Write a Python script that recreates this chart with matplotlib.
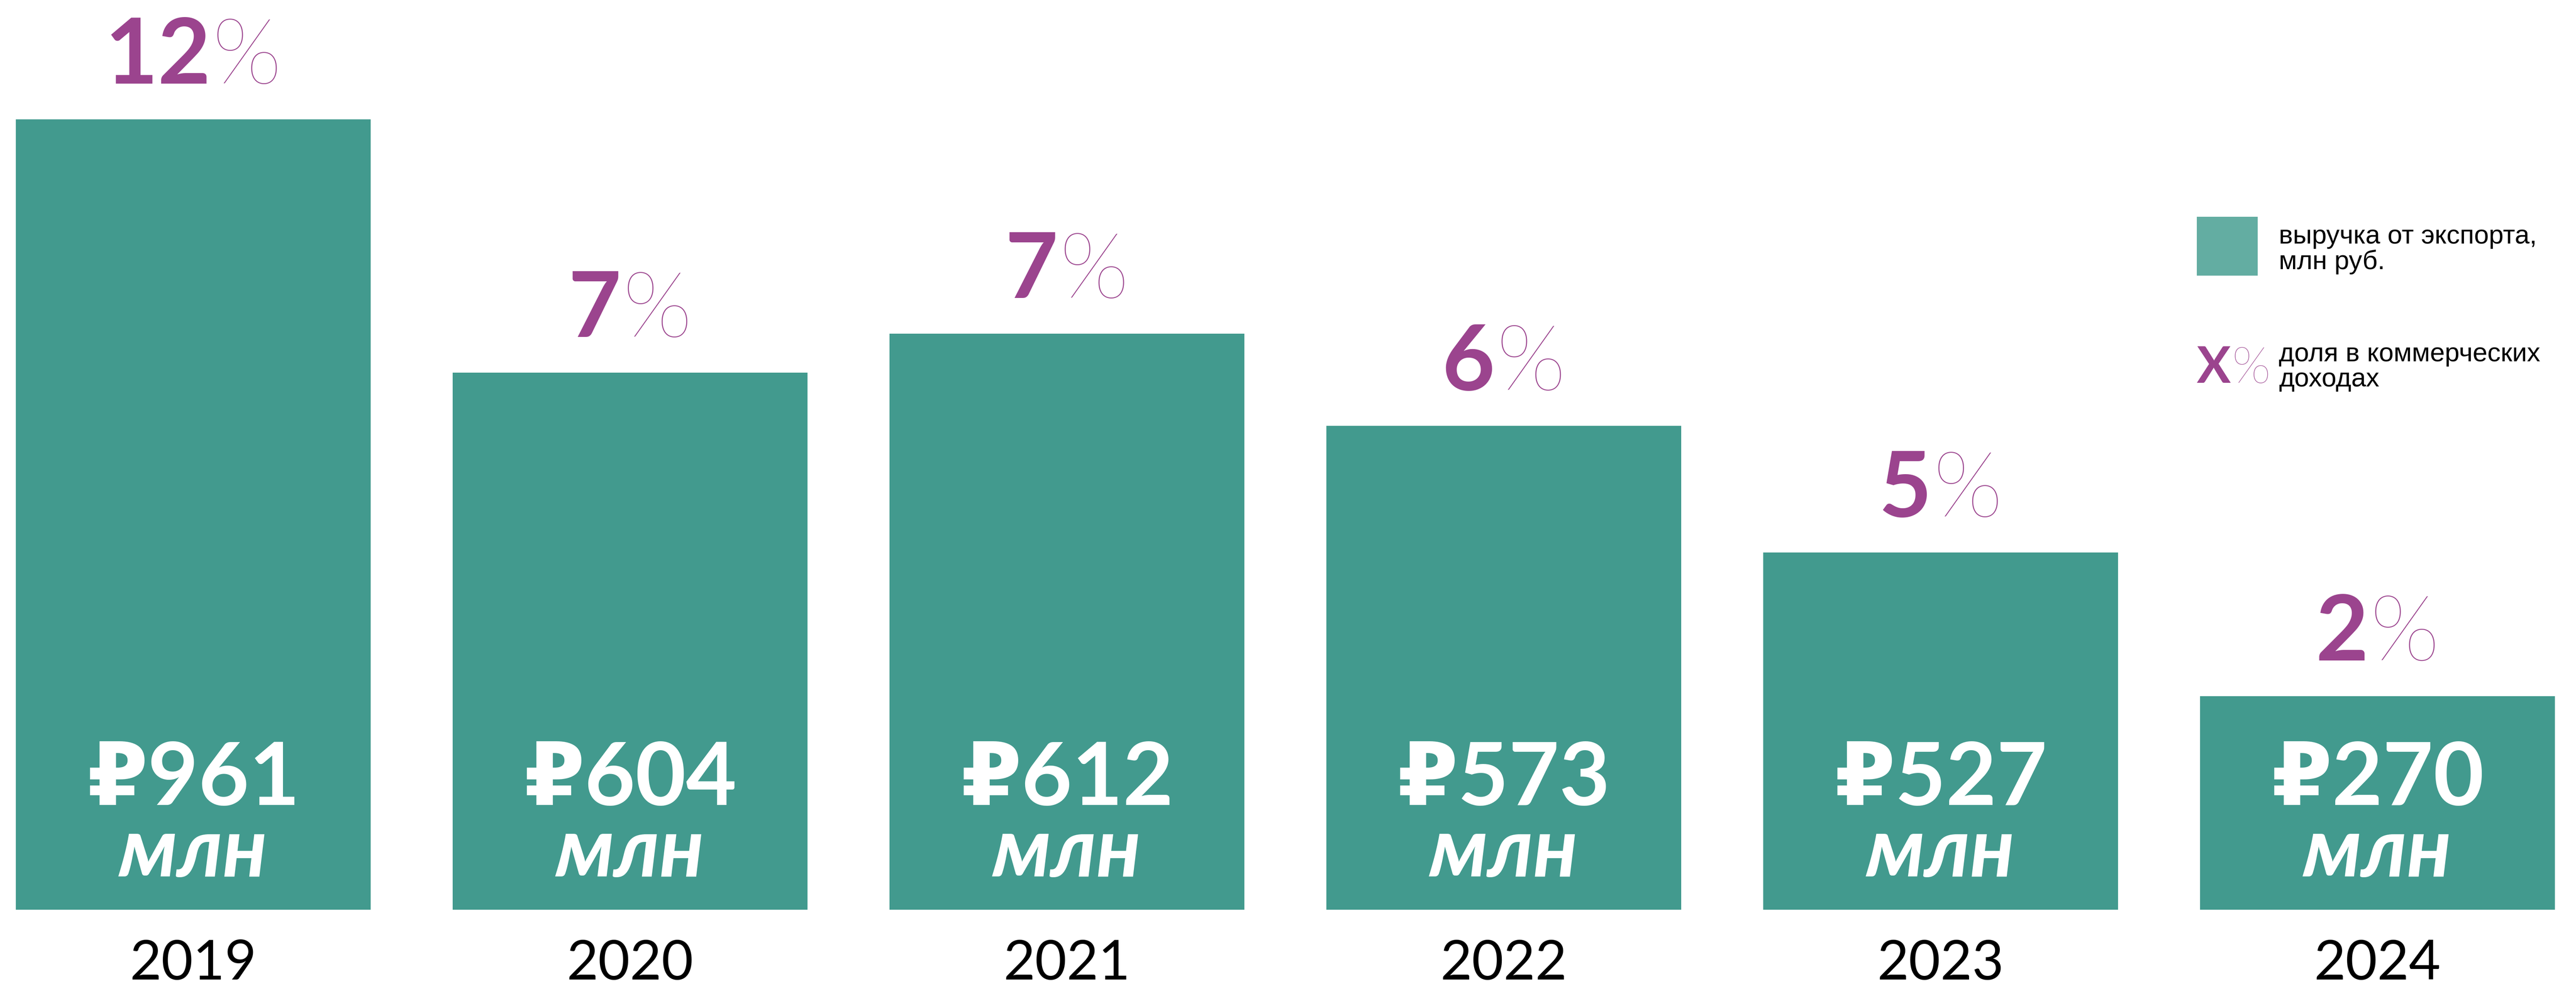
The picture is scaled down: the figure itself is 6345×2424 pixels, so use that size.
import matplotlib
matplotlib.use("Agg")
import matplotlib.pyplot as plt
from matplotlib.patches import Rectangle

# export revenue by year, млн руб., and its share of commercial income, %
years = ["2019", "2020", "2021", "2022", "2023", "2024"]
revenue = [961, 604, 612, 573, 527, 270]
share = [12, 7, 7, 6, 5, 2]
# the source does not draw bars to scale, so bar lengths are read off the picture
bar_len = [1947, 1323, 1419, 1192, 880, 526]

legend_bar = "выручка от экспорта,\nмлн руб."
legend_pct = "доля в коммерческих\nдоходах"

TEAL = "#429a8e"
TEAL_LIGHT = "#63ada2"
PURPLE = "#9b448e"
FONT = ["Lato", "DejaVu Sans"]
NARROW = ["Liberation Sans", "DejaVu Sans"]

W, H, DPI = 6345, 2424, 100

fig = plt.figure(figsize=(W / DPI, H / DPI), dpi=DPI)
ax = fig.add_axes([0, 0, 1, 1])
ax.set_axis_off()

# one x unit = spacing between bars, one y unit = one pixel
step = 1076.0
x0 = 476.0
base = 2241
ax.set_xlim(-x0 / step, (W - x0) / step)
ax.set_ylim(-(H - base), base)

xs = list(range(len(years)))
ax.bar(xs, bar_len, width=874 / step, color=TEAL, linewidth=0)

renderer = fig.canvas.get_renderer()


def pair(x, y, dy, a, b, kw_a, kw_b, gap=4, center=True, coords="data"):
    """Two texts side by side on one baseline, centred on x (or starting at x)."""
    ta = ax.annotate(a, (x, y), xycoords=coords, xytext=(0, dy), textcoords="offset pixels",
                     ha="left", va="baseline", **kw_a)
    tb = ax.annotate(b, (x, y), xycoords=coords, xytext=(0, dy), textcoords="offset pixels",
                     ha="left", va="baseline", **kw_b)
    wa = ta.get_window_extent(renderer).width
    wb = tb.get_window_extent(renderer).width
    start = -(wa + gap + wb) / 2 if center else 0
    ta.xyann = (start, dy)
    tb.xyann = (start + wa + gap, dy)


num_kw = dict(fontsize=162, fontweight="bold", color=PURPLE, family=FONT)
pct_kw = dict(fontsize=162, fontweight="light", color=PURPLE, family=FONT)

for x, h, s, r, yr in zip(xs, bar_len, share, revenue, years):
    pair(x, h, 88, str(s), "%", num_kw, pct_kw)
    ax.text(x, 258, f"₽{r}", ha="center", va="baseline", color="white",
            fontsize=155, fontweight="bold", family=FONT)
    ax.text(x, 82, "млн", ha="center", va="baseline", color="white",
            fontsize=146, fontweight="bold", fontstyle="italic", family=FONT)
    ax.text(x, -172, yr, ha="center", va="baseline", color="black",
            fontsize=97, family=FONT)

# legend, placed in pixel terms of the figure (multi-line text: baseline = last line)
fig.add_artist(Rectangle((5411 / W, 1 - 679 / H), 150 / W, 145 / H,
                         transform=fig.transFigure, color=TEAL_LIGHT, linewidth=0))
fig.text(5613 / W, 1 - 663 / H, legend_bar, ha="left", va="baseline", fontsize=47,
         family=NARROW, color="black", linespacing=1.05)
pair(5411 / W, 1 - 943 / H, 0, "X", "%",
     dict(fontsize=90, fontweight="bold", color=PURPLE, family=FONT),
     dict(fontsize=90, fontweight="light", color=PURPLE, family=FONT),
     gap=2, center=False, coords="figure fraction")
fig.text(5613 / W, 1 - 952 / H, legend_pct, ha="left", va="baseline", fontsize=47,
         family=NARROW, color="black", linespacing=1.05)

fig.savefig("out.png", dpi=DPI, facecolor="white")
